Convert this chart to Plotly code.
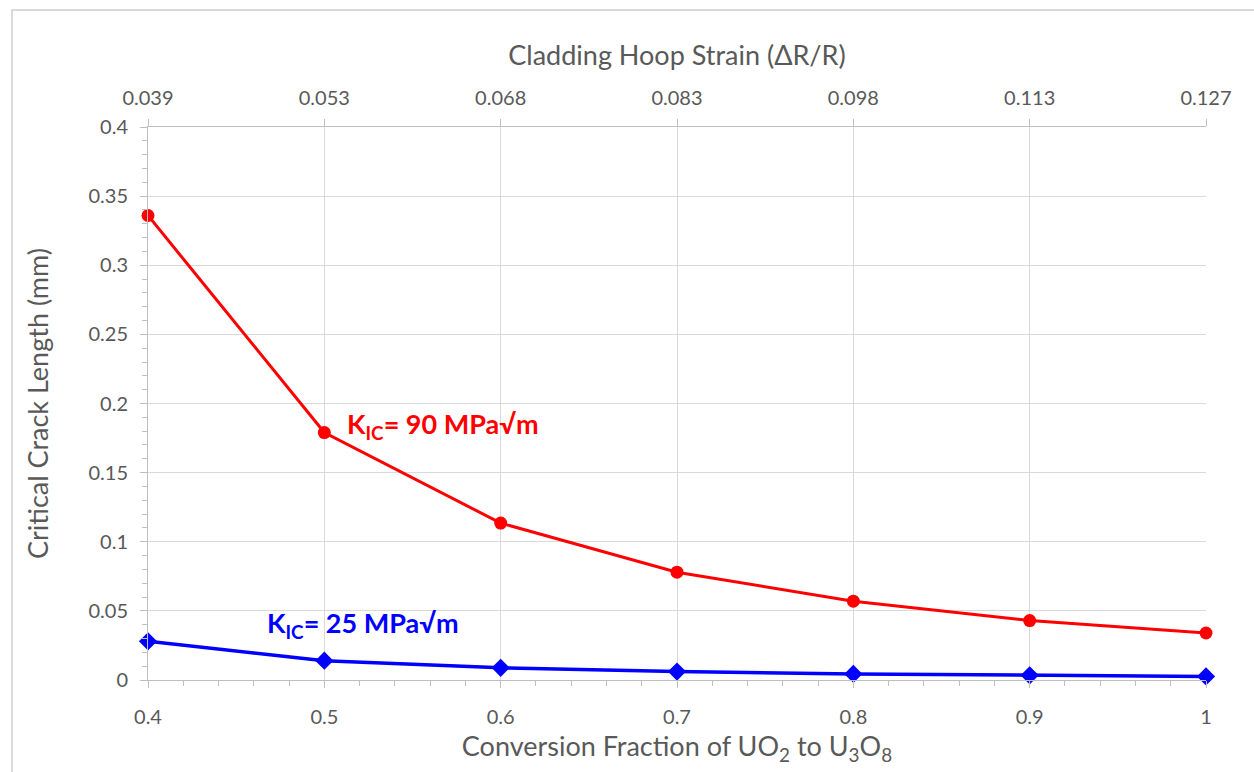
import plotly.graph_objects as go

conversion = [0.4, 0.5, 0.6, 0.7, 0.8, 0.9, 1.0]
crack_k90 = [0.336, 0.179, 0.1135, 0.078, 0.057, 0.043, 0.034]
crack_k25 = [0.028, 0.014, 0.0088, 0.0061, 0.0044, 0.0034, 0.0026]
hoop_strain_labels = ["0.039", "0.053", "0.068", "0.083", "0.098", "0.113", "0.127"]

FONT = "Lato"
GRAY = "#595959"
GRID = "#d9d9d9"
AXL = "#bfbfbf"
TICK = 20
TITLE = 27

fig = go.Figure()
fig.add_trace(go.Scatter(x=conversion, y=crack_k90, mode="lines+markers",
                         line=dict(color="#ff0000", width=3),
                         marker=dict(symbol="circle", size=13, color="#ff0000"),
                         cliponaxis=False, showlegend=False))
fig.add_trace(go.Scatter(x=conversion, y=crack_k25, mode="lines+markers",
                         line=dict(color="#0000ff", width=3.5),
                         marker=dict(symbol="diamond", size=14, color="#0000ff"),
                         cliponaxis=False, showlegend=False))
# invisible trace to activate top axis
fig.add_trace(go.Scatter(x=conversion, y=crack_k90, xaxis="x2", mode="markers",
                         marker=dict(opacity=0), hoverinfo="skip", showlegend=False))

fig.update_layout(
    width=1254, height=772,
    margin=dict(l=148, r=48, t=127, b=92),
    plot_bgcolor="white", paper_bgcolor="white",
    font=dict(family=FONT, color=GRAY, size=TICK),
    xaxis=dict(range=[0.4, 1.0], dtick=0.1, tick0=0.4,
               showgrid=True, gridcolor=GRID, gridwidth=1,
               showline=True, linecolor=AXL, linewidth=1,
               ticks="outside", ticklen=7, tickcolor=AXL,
               tickformat="~g", zeroline=False, ticklabelstandoff=12,
               minor=dict(dtick=0.02, tick0=0.4, ticks="outside", ticklen=5, tickcolor=AXL, showgrid=False),
               title=dict(text="Conversion Fraction of UO<sub>2</sub> to U<sub>3</sub>O<sub>8</sub>",
                          font=dict(size=TITLE, color=GRAY), standoff=10),
               tickfont=dict(size=TICK, color=GRAY)),
    xaxis2=dict(range=[0.4, 1.0], overlaying="x", side="top",
                tickmode="array", tickvals=conversion, ticktext=hoop_strain_labels,
                showgrid=False, showline=True, linecolor=AXL, linewidth=1,
                ticks="outside", ticklen=7, tickcolor=AXL, zeroline=False, ticklabelstandoff=6,
                title=dict(text="Cladding Hoop Strain (ΔR/R)", font=dict(size=TITLE, color=GRAY), standoff=11),
                tickfont=dict(size=TICK, color=GRAY)),
    yaxis=dict(range=[0, 0.4], dtick=0.05, tick0=0,
               showgrid=True, gridcolor=GRID, gridwidth=1,
               showline=True, linecolor=AXL, linewidth=1,
               ticks="outside", ticklen=7, tickcolor=AXL, zeroline=False,
               tickformat="~g", ticklabelstandoff=8,
               minor=dict(dtick=0.01, tick0=0, ticks="outside", ticklen=5, tickcolor=AXL, showgrid=False),
               title=dict(text="Critical Crack Length (mm)", font=dict(size=TITLE, color=GRAY), standoff=32),
               tickfont=dict(size=TICK, color=GRAY)),
    annotations=[
        dict(x=0.5117, y=0.1844, xref="x", yref="y", xanchor="left", yanchor="middle",
             text="<b>K<sub>IC</sub>= 90 MPa√m</b>", showarrow=False,
             font=dict(size=27, color="#ff0000", family=FONT)),
        dict(x=0.4664, y=0.0405, xref="x", yref="y", xanchor="left", yanchor="middle",
             text="<b>K<sub>IC</sub>= 25 MPa√m</b>", showarrow=False,
             font=dict(size=27, color="#0000ff", family=FONT)),
    ],
    shapes=[
        dict(type="rect", xref="paper", yref="paper",
             x0=(12 - 148) / 1058, x1=(1270 - 148) / 1058,
             y0=(680 - 790) / 553, y1=(680 - 10) / 553,
             line=dict(color="#d9d9d9", width=2), fillcolor="rgba(0,0,0,0)", layer="below"),
    ],
)

fig.write_html("out.html")
